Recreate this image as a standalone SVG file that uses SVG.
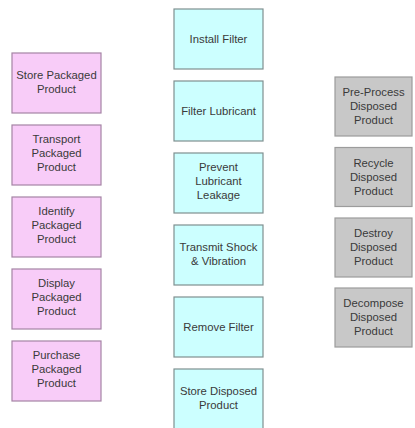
<svg xmlns="http://www.w3.org/2000/svg" width="415" height="428" viewBox="0 0 415 428">
  <style>
    .pink rect { fill: #f8ccf8; stroke: #a584a5; stroke-width: 1.2; }
    .cyan rect { fill: #ccffff; stroke: #7f9090; stroke-width: 1.2; }
    .gray rect { fill: #c8c8c8; stroke: #9c9c9c; stroke-width: 1.2; }
    text { font-family: "Liberation Sans", Arial, sans-serif; font-size: 11.3px; fill: #3a3a3a; text-anchor: middle; }
  </style>
  <rect width="415" height="428" fill="#ffffff"/>

  <!-- left column: packaged product -->
  <g id="store-packaged" class="pink"><rect x="12" y="53" width="89" height="60"/>
    <text x="56.5" y="79">Store Packaged</text><text x="56.5" y="93">Product</text></g>
  <g id="transport-packaged" class="pink"><rect x="12" y="125" width="89" height="60"/>
    <text x="56.5" y="143">Transport</text><text x="56.5" y="157">Packaged</text><text x="56.5" y="171">Product</text></g>
  <g id="identify-packaged" class="pink"><rect x="12" y="197" width="89" height="60"/>
    <text x="56.5" y="215">Identify</text><text x="56.5" y="229">Packaged</text><text x="56.5" y="243">Product</text></g>
  <g id="display-packaged" class="pink"><rect x="12" y="269" width="89" height="60"/>
    <text x="56.5" y="287">Display</text><text x="56.5" y="301">Packaged</text><text x="56.5" y="315">Product</text></g>
  <g id="purchase-packaged" class="pink"><rect x="12" y="341" width="89" height="60"/>
    <text x="56.5" y="359">Purchase</text><text x="56.5" y="373">Packaged</text><text x="56.5" y="387">Product</text></g>

  <!-- middle column: filter functions -->
  <g id="install-filter" class="cyan"><rect x="174" y="9" width="89" height="60"/>
    <text x="218.5" y="43">Install Filter</text></g>
  <g id="filter-lubricant" class="cyan"><rect x="174" y="81" width="89" height="60"/>
    <text x="218.5" y="115">Filter Lubricant</text></g>
  <g id="prevent-leakage" class="cyan"><rect x="174" y="153" width="89" height="60"/>
    <text x="218.5" y="171">Prevent</text><text x="218.5" y="185">Lubricant</text><text x="218.5" y="199">Leakage</text></g>
  <g id="transmit-shock" class="cyan"><rect x="174" y="225" width="89" height="60"/>
    <text x="218.5" y="251">Transmit Shock</text><text x="218.5" y="265">&amp; Vibration</text></g>
  <g id="remove-filter" class="cyan"><rect x="174" y="297" width="89" height="60"/>
    <text x="218.5" y="331">Remove Filter</text></g>
  <g id="store-disposed" class="cyan"><rect x="174" y="369" width="89" height="62"/>
    <text x="218.5" y="395">Store Disposed</text><text x="218.5" y="409">Product</text></g>

  <!-- right column: disposal -->
  <g id="preprocess-disposed" class="gray"><rect x="335" y="77" width="77" height="59"/>
    <text x="373.5" y="96">Pre-Process</text><text x="373.5" y="110">Disposed</text><text x="373.5" y="124">Product</text></g>
  <g id="recycle-disposed" class="gray"><rect x="335" y="147.5" width="77" height="59"/>
    <text x="373.5" y="166.5">Recycle</text><text x="373.5" y="180.5">Disposed</text><text x="373.5" y="194.5">Product</text></g>
  <g id="destroy-disposed" class="gray"><rect x="335" y="218" width="77" height="59"/>
    <text x="373.5" y="237">Destroy</text><text x="373.5" y="251">Disposed</text><text x="373.5" y="265">Product</text></g>
  <g id="decompose-disposed" class="gray"><rect x="335" y="288" width="77" height="59"/>
    <text x="373.5" y="307">Decompose</text><text x="373.5" y="321">Disposed</text><text x="373.5" y="335">Product</text></g>

  <!-- no connectors in this chart -->
  <g id="connectors"/>
</svg>
